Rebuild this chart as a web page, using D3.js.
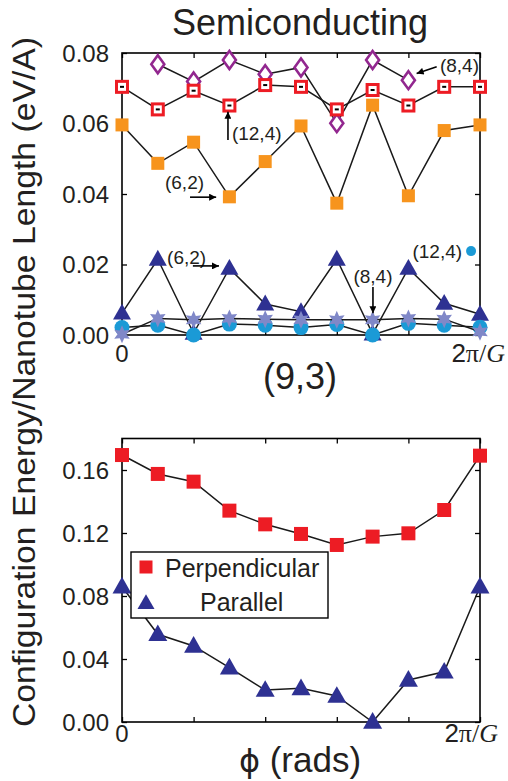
<!DOCTYPE html>
<html>
<head>
<meta charset="utf-8">
<script src="https://cdn.jsdelivr.net/npm/d3@7"></script>
<style>
  body { margin: 0; background: #fff; }
  svg { font-family: "Liberation Sans", Arial, Helvetica, sans-serif; }
</style>
</head>
<body>
<svg width="508" height="781"></svg>
<script>
// phase positions, as fraction of 2pi/G
const phi = [0, 0.1, 0.2, 0.3, 0.4, 0.5, 0.6, 0.7, 0.8, 0.9, 1.0];
const phi84 = [0.1, 0.2, 0.3, 0.4, 0.5, 0.6, 0.7, 0.8];

// top panel: semiconducting tubes
const sc84 = [0.0768, 0.0719, 0.0780, 0.0740, 0.0759, 0.0601, 0.0780, 0.0723];
const sc124 = [0.0704, 0.0640, 0.0693, 0.0651, 0.0709, 0.0704, 0.0640, 0.0695, 0.0651, 0.0704, 0.0704];
const sc62 = [0.0596, 0.0487, 0.0547, 0.0392, 0.0492, 0.0593, 0.0374, 0.0652, 0.0395, 0.0580, 0.0596];
const lo62 = [0.0062, 0.0215, 0.0005, 0.0189, 0.0088, 0.0066, 0.0215, 0.0003, 0.0189, 0.0090, 0.0059];
const lo84 = [0.0002, 0.0047, 0.0043, 0.0047, 0.0045, 0.0043, 0.0043, 0.0043, 0.0047, 0.0045, 0.0009];
const lo124 = [0.0021, 0.0028, 0.0000, 0.0031, 0.0028, 0.0021, 0.0030, 0.0000, 0.0033, 0.0028, 0.0022];
const topTicks = [0, 0.02, 0.04, 0.06, 0.08];

// bottom panel: (9,3)
const perp = [0.1695, 0.1575, 0.1526, 0.1342, 0.1255, 0.1194, 0.1124, 0.1177, 0.1198, 0.1346, 0.1691];
const para = [0.0859, 0.0557, 0.0483, 0.0345, 0.0203, 0.0214, 0.0165, 0.0000, 0.0267, 0.0319, 0.0859];
const botTicks = [0, 0.04, 0.08, 0.12, 0.16];
const xTicks = [0, 0.2, 0.4, 0.6, 0.8, 1.0];

const RED = "#ed1c24", ORANGE = "#f7941d", PURPLE = "#92278f",
      NAVY = "#2e3192", PERI = "#8088c8", CYAN = "#1b9ad6";

const svg = d3.select("svg");
const defs = svg.append("defs");
defs.append("marker")
  .attr("id", "arr")
  .attr("viewBox", "0 0 10 10")
  .attr("refX", 10).attr("refY", 5)
  .attr("markerWidth", 9).attr("markerHeight", 7)
  .attr("markerUnits", "userSpaceOnUse")
  .attr("orient", "auto")
  .append("path").attr("d", "M0,0L10,5L0,10Z").attr("fill", "#000");

const x = d3.scaleLinear().domain([0, 1]).range([122, 480]);
const yTop = d3.scaleLinear().domain([0, 0.08]).range([335, 53]);
const yBot = d3.scaleLinear().domain([0, 0.18]).range([722, 438.5]);

function star6(r) {
  const pts = [];
  for (let i = 0; i < 12; i++) {
    const a = -Math.PI / 2 + i * Math.PI / 6;
    const rr = i % 2 ? r * 0.5 : r;
    pts.push([rr * Math.cos(a), rr * Math.sin(a)]);
  }
  return "M" + pts.join("L") + "Z";
}

function frame(y, ticks) {
  const g = svg.append("g");
  g.append("g").attr("transform", "translate(122,0)")
    .call(d3.axisLeft(y).tickValues(ticks).tickSize(-5).tickPadding(13).tickFormat(d3.format(".2f")))
    .call(a => a.select(".domain").remove())
    .call(a => a.selectAll("text").attr("font-size", 24).attr("fill", "#231f20").attr("dy", "0.34em"));
  g.append("g").attr("transform", "translate(480,0)")
    .call(d3.axisRight(y).tickValues(ticks).tickSize(-5).tickFormat(""))
    .call(a => a.select(".domain").remove());
  g.append("g").attr("transform", `translate(0,${y.range()[0]})`)
    .call(d3.axisBottom(x).tickValues(xTicks).tickSize(-5).tickFormat(""))
    .call(a => a.select(".domain").remove());
  g.append("g").attr("transform", `translate(0,${y.range()[1]})`)
    .call(d3.axisTop(x).tickValues(xTicks).tickSize(-5).tickFormat(""))
    .call(a => a.select(".domain").remove());
  g.selectAll(".tick line").attr("stroke", "#000").attr("stroke-width", 1.3);
  g.append("rect")
    .attr("x", x(0)).attr("y", y.range()[1])
    .attr("width", x(1) - x(0)).attr("height", y.range()[0] - y.range()[1])
    .attr("fill", "none").attr("stroke", "#000").attr("stroke-width", 1.6);
  return g;
}

function series(y, xs, ys, shape) {
  const pts = xs.map((p, i) => [x(p), y(ys[i])]);
  svg.append("path")
    .attr("d", d3.line()(pts))
    .attr("fill", "none").attr("stroke", "#1a1a1a").attr("stroke-width", 1.5);
  const g = svg.append("g");
  pts.forEach(([px, py]) => {
    const m = g.append("g").attr("transform", `translate(${px},${py})`);
    shape(m);
  });
}

const filledSquare = (c, s) => m => m.append("rect").attr("x", -s / 2).attr("y", -s / 2)
  .attr("width", s).attr("height", s).attr("fill", c);
const openSquare = m => {
  m.append("rect").attr("x", -5.5).attr("y", -5.5).attr("width", 11).attr("height", 11)
    .attr("fill", "#fff").attr("stroke", RED).attr("stroke-width", 3);
  m.append("rect").attr("x", -2).attr("y", -1).attr("width", 4).attr("height", 2).attr("fill", "#000");
};
const diamond = m => m.append("path").attr("d", "M0,-9L6.5,0L0,9L-6.5,0Z")
  .attr("fill", "#fff").attr("stroke", PURPLE).attr("stroke-width", 2.6);
const triangle = (c, w) => m => m.append("path")
  .attr("d", `M0,${-w * 0.52}L${w / 2},${w * 0.36}L${-w / 2},${w * 0.36}Z`).attr("fill", c);
const circle = m => m.append("circle").attr("r", 7.5).attr("fill", CYAN);
const star = m => m.append("path").attr("d", star6(9)).attr("fill", PERI);

// ---- top panel
frame(yTop, topTicks);
series(yTop, phi, sc62, filledSquare(ORANGE, 13));
series(yTop, phi84, sc84, diamond);
series(yTop, phi, sc124, openSquare);
series(yTop, phi, lo62, triangle(NAVY, 18));
series(yTop, phi, lo124, circle);
series(yTop, phi, lo84, star);

svg.append("text").attr("x", 300).attr("y", 35).attr("text-anchor", "middle")
  .attr("font-size", 36).attr("fill", "#231f20").text("Semiconducting");

// annotations, in data units
const notes = [
  { t: "(8,4)", tx: 0.888, ty: 0.0766, anchor: "start", a: [0.879, 0.0761, 0.823, 0.0742] },
  { t: "(12,4)", tx: 0.307, ty: 0.0573, anchor: "start", a: [0.296, 0.0553, 0.296, 0.0633] },
  { t: "(6,2)", tx: 0.120, ty: 0.0434, anchor: "start", a: [0.190, 0.0391, 0.263, 0.0391] },
  { t: "(6,2)", tx: 0.126, ty: 0.0221, anchor: "start", a: [0.198, 0.0196, 0.271, 0.0196] },
  { t: "(8,4)", tx: 0.701, ty: 0.0165, anchor: "middle", a: [0.701, 0.0136, 0.701, 0.0062] },
  { t: "(12,4)", tx: 0.950, ty: 0.0238, anchor: "end", a: null }
];
notes.forEach(n => {
  svg.append("text").attr("x", x(n.tx)).attr("y", yTop(n.ty)).attr("dy", "0.35em")
    .attr("text-anchor", n.anchor).attr("font-size", 19).attr("fill", "#231f20").text(n.t);
  if (n.a) {
    svg.append("line")
      .attr("x1", x(n.a[0])).attr("y1", yTop(n.a[1]))
      .attr("x2", x(n.a[2])).attr("y2", yTop(n.a[3]))
      .attr("stroke", "#000").attr("stroke-width", 1.6).attr("marker-end", "url(#arr)");
  }
});
svg.append("circle").attr("cx", x(0.975)).attr("cy", yTop(0.0238)).attr("r", 5).attr("fill", CYAN);

// x labels top
svg.append("text").attr("x", x(0)).attr("y", 362).attr("text-anchor", "middle")
  .attr("font-size", 24).attr("fill", "#231f20").text("0");
function twoPiG(px, py) {
  const t = svg.append("text").attr("x", px).attr("y", py).attr("text-anchor", "end")
    .attr("font-size", 26).attr("fill", "#231f20");
  t.append("tspan").text("2");
  t.append("tspan").attr("font-family", "'Liberation Serif', serif").text("π/");
  t.append("tspan").attr("font-family", "'Liberation Serif', serif").attr("font-style", "italic").text("G");
}
twoPiG(505, 362);

// ---- bottom panel
frame(yBot, botTicks);
series(yBot, phi, perp, filledSquare(RED, 14));
series(yBot, phi, para, triangle(NAVY, 19));

svg.append("text").attr("x", 300).attr("y", 389).attr("text-anchor", "middle")
  .attr("font-size", 36).attr("fill", "#231f20").text("(9,3)");

const leg = svg.append("g").attr("transform", "translate(131,552)");
leg.append("rect").attr("width", 197).attr("height", 66)
  .attr("fill", "#fff").attr("stroke", "#000").attr("stroke-width", 1.4);
filledSquare(RED, 13)(leg.append("g").attr("transform", "translate(15,15)"));
triangle(NAVY, 17)(leg.append("g").attr("transform", "translate(15,51)"));
leg.append("text").attr("x", 34).attr("y", 25).attr("font-size", 25).attr("fill", "#231f20").text("Perpendicular");
leg.append("text").attr("x", 69).attr("y", 59).attr("font-size", 25).attr("fill", "#231f20").text("Parallel");

svg.append("text").attr("x", x(0)).attr("y", 742).attr("text-anchor", "middle")
  .attr("font-size", 24).attr("fill", "#231f20").text("0");
twoPiG(498, 742);

const xl = svg.append("text").attr("x", 300).attr("y", 772).attr("text-anchor", "middle")
  .attr("font-size", 35).attr("fill", "#231f20");
xl.append("tspan").attr("font-family", "'DejaVu Sans', sans-serif").attr("font-size", 32).text("ϕ");
xl.append("tspan").text(" (rads)");

svg.append("text")
  .attr("transform", "translate(35,382) rotate(-90)")
  .attr("text-anchor", "middle").attr("font-size", 32).attr("fill", "#231f20")
  .attr("textLength", 690).attr("lengthAdjust", "spacingAndGlyphs")
  .text("Configuration Energy/Nanotube Length (eV/A)");
</script>
</body>
</html>
